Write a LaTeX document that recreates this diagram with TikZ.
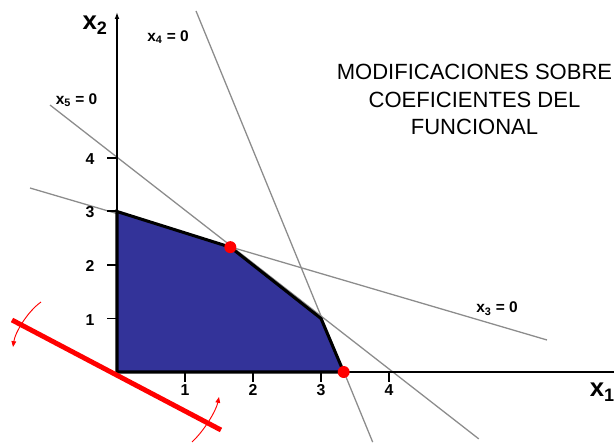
\documentclass[tikz,border=0pt]{standalone}
\usepackage{fontspec}
\setmainfont{Liberation Sans}
\usetikzlibrary{arrows.meta}
\definecolor{regionblue}{RGB}{51,51,153}
\definecolor{linegray}{RGB}{140,140,140}
\definecolor{objred}{RGB}{255,0,0}

\begin{document}
\begin{tikzpicture}[x=2.04cm, y=1.605cm,
  axis/.style={line width=1.7pt, black},
  constr/.style={line width=1.1pt, linegray},
  region/.style={fill=regionblue, draw=black, line width=2.6pt},
  vertex/.style={circle, fill=objred, inner sep=0pt, minimum size=0.36cm},
  ticklabel/.style={font=\fontsize{13.5}{15}\selectfont\bfseries},
  eqlabel/.style={font=\fontsize{13.2}{15}\selectfont\bfseries},
  axislabel/.style={font=\fontsize{22}{24}\selectfont\bfseries, inner sep=0pt},
  title/.style={font=\fontsize{18.8}{23.3}\selectfont, align=center},
  objline/.style={line width=4.2pt, objred},
  turn/.style={-{Triangle[length=5pt,width=4pt]}, line width=0.8pt, objred},
]
  \useasboundingbox (-1.7206,-1.3271) rectangle (7.3088,6.9533);

  % vertices of the feasible region
  \coordinate (O) at (0,0);
  \coordinate (A) at (0,3);
  \coordinate (B) at (5/3,7/3);
  \coordinate (C) at (3,1);
  \coordinate (D) at (10/3,0);

  % constraint lines
  \draw[constr] (1.162,6.748) -- (3.76,-1.31);
  \draw[constr] (-0.985,4.99) -- (5.32,-1.25);
  \draw[constr] (-1.279,3.439) -- (6.324,0.598);

  \draw[region] (O) -- (A) -- (B) -- (C) -- (D) -- cycle;

  % axes
  \draw[axis, -{Latex[length=6pt,width=4pt]}] (O) -- (0,6.73);
  \draw[axis] (O) -- (7.5,0);
  \foreach \k in {1,2,3,4} {
    \draw[axis] (-0.147,\k) -- (0,\k);
    \draw[axis] (\k,0) -- (\k,-0.187);
    \node[ticklabel] (ylab\k) at (-0.397,\k-0.02) {\k};
    \node[ticklabel] (xlab\k) at (\k,-0.33) {\k};
  }

  \node[axislabel, anchor=base west] (xtwo) at (-0.51,6.393) {x\textsubscript{2}};
  \node[axislabel, anchor=base west] (xone) at (6.95,-0.467) {x\textsubscript{1}};

  \node[eqlabel] (xfour) at (0.75,6.26) {x\textsubscript{4} = 0};
  \node[eqlabel] (xfive) at (-0.596,5.08) {x\textsubscript{5} = 0};
  \node[eqlabel] (xthree) at (5.588,1.18) {x\textsubscript{3} = 0};

  \node[title] (head) at (5.257,5.093) {MODIFICACIONES SOBRE\\COEFICIENTES DEL\\FUNCIONAL};

  % objective function and its rotation
  \draw[objline] (-1.544,0.972) -- (1.529,-1.084);
  \draw[turn] (-1.118,1.308) .. controls (-1.324,1.121) and (-1.5,0.729) .. (-1.529,0.467);
  \draw[turn] (1.103,-1.308) .. controls (1.279,-1.103) and (1.456,-0.729) .. (1.5,-0.467);

  \node[vertex] (optB) at (B) {};
  \node[vertex] (optD) at (D) {};
\end{tikzpicture}
\end{document}
